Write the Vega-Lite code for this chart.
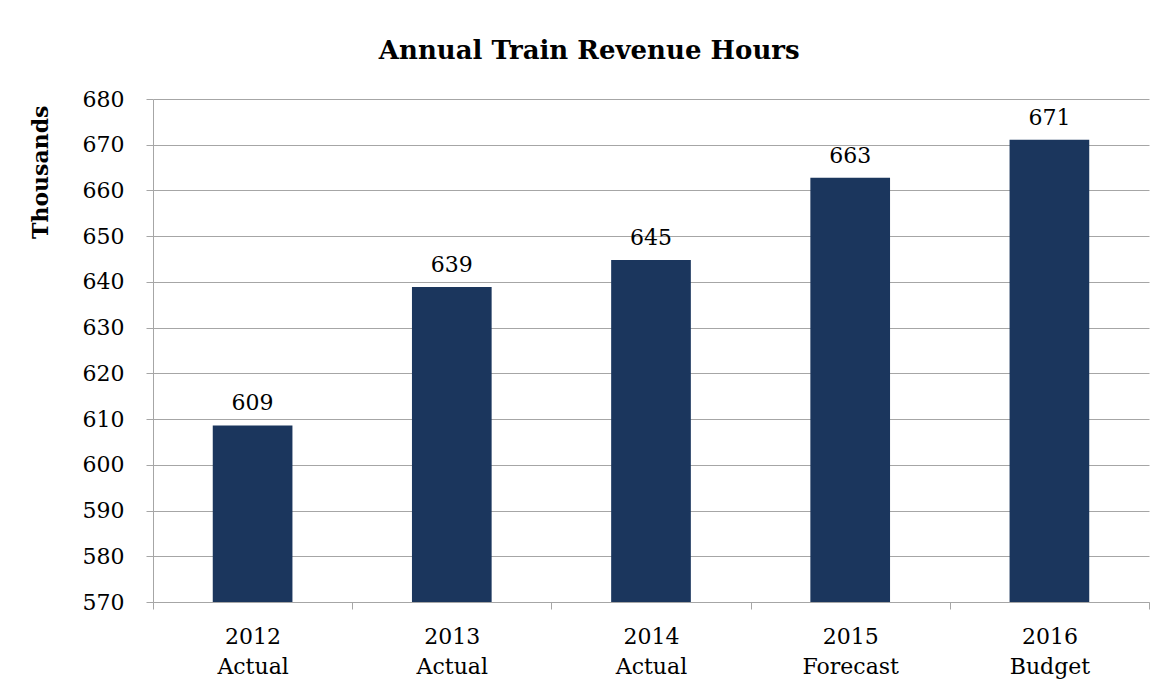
{
  "$schema": "https://vega.github.io/schema/vega-lite/v6.json",
  "autosize": "none",
  "width": 996,
  "height": 503,
  "padding": {"left": 153, "top": 99, "right": 23, "bottom": 90},
  "background": "white",
  "title": {
    "text": "Annual Train Revenue Hours",
    "anchor": "middle",
    "frame": "bounds",
    "font": "DejaVu Serif",
    "fontSize": 26,
    "fontWeight": "bold",
    "color": "black",
    "offset": 24
  },
  "data": {
    "values": [
      {"cat": "2012\nActual", "value": 608.6, "label": "609"},
      {"cat": "2013\nActual", "value": 638.9, "label": "639"},
      {"cat": "2014\nActual", "value": 644.8, "label": "645"},
      {"cat": "2015\nForecast", "value": 662.8, "label": "663"},
      {"cat": "2016\nBudget", "value": 671.1, "label": "671"}
    ]
  },
  "encoding": {
    "x": {
      "field": "cat",
      "type": "nominal",
      "sort": null,
      "scale": {"paddingInner": 0, "paddingOuter": 0},
      "axis": {
        "title": null,
        "labelAngle": 0,
        "labelExpr": "split(datum.label, '\\n')",
        "labelFont": "DejaVu Serif",
        "labelFontSize": 22,
        "labelColor": "black",
        "labelLineHeight": 30,
        "labelPadding": 17,
        "tickBand": "extent",
        "tickSize": 7,
        "tickColor": "#A6A6A6",
        "domainColor": "#A6A6A6",
        "grid": false
      }
    },
    "y": {
      "field": "value",
      "type": "quantitative",
      "scale": {"domain": [570, 680], "zero": false, "nice": false},
      "axis": {
        "title": "Thousands",
        "titleFont": "DejaVu Serif",
        "titleFontSize": 22,
        "titleFontWeight": "bold",
        "titleColor": "black",
        "titleAnchor": "end",
        "titleY": 6,
        "titlePadding": 30,
        "values": [570, 580, 590, 600, 610, 620, 630, 640, 650, 660, 670, 680],
        "labelFont": "DejaVu Serif",
        "labelFontSize": 22,
        "labelColor": "black",
        "labelPadding": 22,
        "tickSize": 7,
        "tickColor": "#A6A6A6",
        "domainColor": "#A6A6A6",
        "gridColor": "#A6A6A6",
        "grid": true
      }
    }
  },
  "layer": [
    {"mark": {"type": "bar", "color": "#1B365D", "clip": true, "width": {"band": 0.4}}},
    {
      "mark": {
        "type": "text",
        "baseline": "bottom",
        "dy": -10,
        "font": "DejaVu Serif",
        "fontSize": 22,
        "color": "black"
      },
      "encoding": {"text": {"field": "label"}}
    }
  ],
  "config": {"view": {"stroke": null}}
}
